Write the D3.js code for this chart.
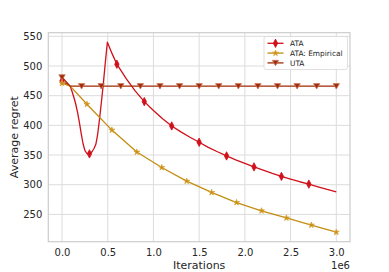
<!DOCTYPE html>
<html>
<head>
<meta charset="utf-8">
<script src="https://cdn.jsdelivr.net/npm/d3@7"></script>
<style>
  body { margin: 0; background: #fff; }
  svg { display: block; font-family: "DejaVu Sans", sans-serif; }
</style>
</head>
<body>
<div id="chart"></div>
<script>
// iterations in units of 1e6
const ataIter = [0, 0.09, 0.11, 0.13, 0.15, 0.17, 0.19, 0.21, 0.23, 0.25, 0.27, 0.29, 0.31, 0.33, 0.35,
  0.37, 0.39, 0.41, 0.43, 0.45, 0.47, 0.496,
  0.55, 0.6, 0.7, 0.8, 0.9, 1.0, 1.1, 1.2, 1.3, 1.4, 1.5, 1.6, 1.7, 1.8, 1.9, 2.0,
  2.1, 2.2, 2.3, 2.4, 2.5, 2.6, 2.7, 2.8, 2.9, 3.0]
const ataRegret = [475, 466, 457, 447, 436, 422, 405, 386, 369, 358, 353, 351.5, 352.5, 356, 361,
  368, 385, 410, 438, 467, 500, 540,
  520, 503, 479, 458, 440, 425, 411, 399, 389, 380, 371.5, 363, 355.5, 348.5, 342, 336,
  330, 324.5, 319, 314, 309.5, 305, 301, 296.5, 292, 288]
const ataMarks = [0, 0.3, 0.6, 0.9, 1.2, 1.5, 1.8, 2.1, 2.4, 2.7]

const empIter = [0, 0.09, 3 / 11, 6 / 11, 9 / 11, 12 / 11, 15 / 11, 18 / 11, 21 / 11, 24 / 11, 27 / 11, 30 / 11, 3.0]
const empRegret = [471, 466, 435.5, 392, 355, 329, 306, 287, 270, 256, 244, 232, 220]
const empMarks = [0, 3 / 11, 6 / 11, 9 / 11, 12 / 11, 15 / 11, 18 / 11, 21 / 11, 24 / 11, 27 / 11, 30 / 11, 3.0]

const utaIter = [0, 0.09, 3.0]
const utaRegret = [481, 466, 466]
const utaMarks = [0, 3 / 14, 6 / 14, 9 / 14, 12 / 14, 15 / 14, 18 / 14, 21 / 14, 24 / 14, 27 / 14, 30 / 14, 33 / 14, 36 / 14, 39 / 14, 3.0]

const xTicks = [0, 0.5, 1.0, 1.5, 2.0, 2.5, 3.0]
const yTicks = [250, 300, 350, 400, 450, 500, 550]
const seriesNames = ['ATA', 'ATA: Empirical', 'UTA']

const W = 389, H = 272
const pLeft = 48.3, pRight = 350, pTop = 32.7, pBottom = 241.7
const textColor = '#262626'

const x = d3.scaleLinear().domain([-0.15, 3.15]).range([pLeft, pRight])
const y = d3.scaleLinear().domain([204, 556.1]).range([pBottom, pTop])

function interp(iters, vals, t) {
    for (let i = 1; i < iters.length; i++) {
        if (t <= iters[i] + 1e-9) {
            const f = (t - iters[i - 1]) / (iters[i] - iters[i - 1])
            return vals[i - 1] + f * (vals[i] - vals[i - 1])
        }
    }
    return vals[vals.length - 1]
}

const diamond = (w, h) => `M0,${-h}L${w},0L0,${h}L${-w},0Z`
const triDown = s => `M${-s},${-s * 0.8}L${s},${-s * 0.8}L0,${s * 0.9}Z`
const star = d3.symbol().type(d3.symbolStar).size(11)()

const series = [
    { name: seriesNames[0], iter: ataIter, vals: ataRegret, marks: ataMarks, color: '#d0101a', edge: '#d0101a',
      shape: diamond(2.2, 4.2) },
    { name: seriesNames[1], iter: empIter, vals: empRegret, marks: empMarks, color: '#c38d12', edge: '#d9a43a',
      shape: star },
    { name: seriesNames[2], iter: utaIter, vals: utaRegret, marks: utaMarks, color: '#a02a06', edge: '#c97a62',
      shape: triDown(3.2) }
]

const svg = d3.select('#chart').append('svg')
    .attr('width', W)
    .attr('height', H)

svg.append('rect').attr('width', W).attr('height', H).attr('fill', '#fff')

// grid
svg.append('g').selectAll('line').data(xTicks).enter().append('line')
    .attr('x1', d => x(d)).attr('x2', d => x(d))
    .attr('y1', pTop).attr('y2', pBottom)
    .attr('stroke', '#dcdcdc').attr('stroke-width', 1)
svg.append('g').selectAll('line').data(yTicks).enter().append('line')
    .attr('x1', pLeft).attr('x2', pRight)
    .attr('y1', d => y(d)).attr('y2', d => y(d))
    .attr('stroke', '#dcdcdc').attr('stroke-width', 1)

// axes
const xAxis = d3.axisBottom(x).tickValues(xTicks).tickSize(0).tickPadding(7)
    .tickFormat(d => d.toFixed(1))
const yAxis = d3.axisLeft(y).tickValues(yTicks).tickSize(0).tickPadding(6)

const gx = svg.append('g').attr('transform', `translate(0,${pBottom})`).call(xAxis)
const gy = svg.append('g').attr('transform', `translate(${pLeft},0)`).call(yAxis)
for (const g of [gx, gy]) {
    g.select('.domain').remove()
    g.selectAll('text').attr('fill', textColor).style('font-size', '10px')
        .style('font-family', '"DejaVu Sans", sans-serif')
}

// frame
svg.append('rect')
    .attr('x', pLeft).attr('y', pTop)
    .attr('width', pRight - pLeft).attr('height', pBottom - pTop)
    .attr('fill', 'none').attr('stroke', '#cccccc').attr('stroke-width', 1.2)

// lines
const line = d3.line().x(d => x(d[0])).y(d => y(d[1]))
series.forEach(s => {
    svg.append('path')
        .datum(s.iter.map((t, i) => [t, s.vals[i]]))
        .attr('d', line)
        .attr('fill', 'none')
        .attr('stroke', s.color)
        .attr('stroke-width', 1.3)
        .attr('stroke-linejoin', 'round')
})
series.forEach(s => {
    svg.append('g').selectAll('path')
        .data(s.marks)
        .enter()
        .append('path')
        .attr('transform', t => `translate(${x(t)},${y(interp(s.iter, s.vals, t))})`)
        .attr('d', s.shape)
        .attr('fill', s.color)
        .attr('stroke', s.edge)
        .attr('stroke-width', 0.8)
})

// axis labels
svg.append('text')
    .attr('x', (pLeft + pRight) / 2).attr('y', 269)
    .attr('text-anchor', 'middle')
    .attr('fill', textColor)
    .style('font-size', '11px')
    .text('Iterations')
svg.append('text')
    .attr('x', pRight).attr('y', 269)
    .attr('text-anchor', 'end')
    .attr('fill', textColor)
    .style('font-size', '10px')
    .text('1e6')
svg.append('text')
    .attr('transform', `translate(18,${(pTop + pBottom) / 2}) rotate(-90)`)
    .attr('text-anchor', 'middle')
    .attr('fill', textColor)
    .style('font-size', '11px')
    .text('Average regret')

// legend
const lg = svg.append('g').attr('transform', 'translate(264,36.5)')
lg.append('rect')
    .attr('width', 83.5).attr('height', 33).attr('rx', 2)
    .attr('fill', '#fff').attr('fill-opacity', 0.85)
    .attr('stroke', '#d8d8d8').attr('stroke-width', 0.8)
series.forEach((s, i) => {
    const ly = 6.8 + i * 9.8
    lg.append('line')
        .attr('x1', 3.5).attr('x2', 19.5).attr('y1', ly).attr('y2', ly)
        .attr('stroke', s.color).attr('stroke-width', 1.3)
    lg.append('path')
        .attr('transform', `translate(11.5,${ly})`)
        .attr('d', s.shape)
        .attr('fill', s.color)
        .attr('stroke', s.edge)
        .attr('stroke-width', 0.8)
    lg.append('text')
        .attr('x', 26).attr('y', ly + 2.6)
        .attr('fill', textColor)
        .style('font-size', '7.4px')
        .text(s.name)
})
</script>
</body>
</html>
